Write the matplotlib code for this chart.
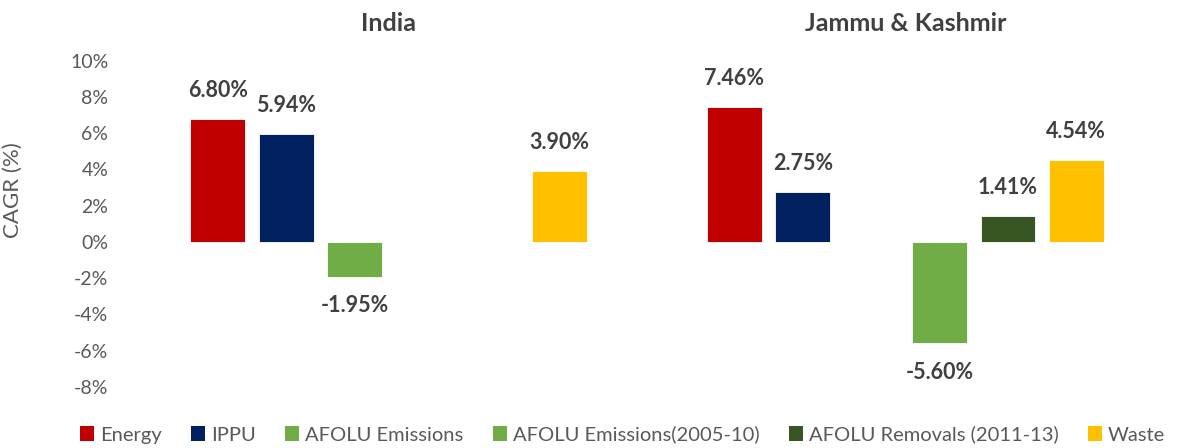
import numpy as np
import matplotlib.pyplot as plt
from matplotlib.patches import Patch

# ------------------------------------------------------------
# Data (CAGR %, NaN = no bar)
# ------------------------------------------------------------
regions = ['India', 'Jammu & Kashmir']
series = ['Energy', 'IPPU', 'AFOLU Emissions', 'AFOLU Emissions(2005-10)',
          'AFOLU Removals (2011-13)', 'Waste']
energy = [6.80, 7.46]
ippu = [5.94, 2.75]
afolu_em = [-1.95, np.nan]
afolu_em_0510 = [np.nan, -5.60]
afolu_rem = [np.nan, 1.41]
waste = [3.90, 4.54]
colors = ['#C00000', '#002060', '#70AD47', '#70AD47', '#375623', '#FFC000']

values = [energy, ippu, afolu_em, afolu_em_0510, afolu_rem, waste]

plt.rcParams['font.family'] = ['Lato', 'DejaVu Sans']

fig = plt.figure(figsize=(11.77, 4.48), dpi=100)
ax = fig.add_axes([0.1109, 0.1362, 0.8777, 0.7286])

n = len(series)
cat_w = 7.55  # category width in slot units (6 slots + gap)
centers = np.arange(len(regions)) * cat_w

for j, (name, vals, c) in enumerate(zip(series, values, colors)):
    xs = centers + (j - (n - 1) / 2)
    for x, v in zip(xs, vals):
        if np.isnan(v):
            continue
        ax.bar(x, v, width=0.8, color=c, edgecolor='white', linewidth=0.6)
        off = 13 if v >= 0 else -13
        ax.annotate(f'{v:.2f}%', xy=(x, v), xytext=(0, off),
                    textcoords='offset points', ha='center',
                    va='bottom' if v >= 0 else 'top',
                    fontsize=15.5, fontweight='bold', color='#404040')

for cx, r in zip(centers, regions):
    ax.text(cx, 1.114, r, transform=ax.get_xaxis_transform(), ha='center',
            va='center', fontsize=18, fontweight='bold', color='#404040')

ax.set_xlim(centers[0] - cat_w / 2, centers[-1] + cat_w / 2)
ax.set_ylim(-8, 10)
ax.set_yticks(np.arange(-8, 11, 2))
ax.set_yticklabels([f'{t}%' for t in range(-8, 11, 2)])
ax.tick_params(axis='y', length=0, pad=16, labelsize=14, labelcolor='#595959')
ax.set_xticks([])
for s in ax.spines.values():
    s.set_visible(False)
ax.set_ylabel('CAGR (%)', fontsize=16, color='#595959')
ax.yaxis.set_label_coords(-0.104, 0.604)

handles = [Patch(facecolor=c, label=s) for s, c in zip(series, colors)]
fig.legend(handles=handles, loc='center', bbox_to_anchor=(0.529, 0.03),
           ncol=6, frameon=False, fontsize=14.5, handlelength=0.7,
           handleheight=0.7, handletextpad=0.3, columnspacing=1.45,
           labelcolor='#595959')

fig.savefig('out.png', dpi=100)
